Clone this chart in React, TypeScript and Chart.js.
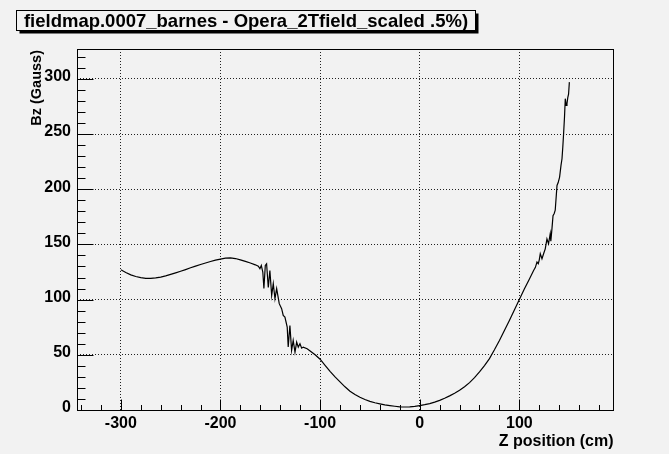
import React, { useEffect, useRef } from "react";
import { Chart, registerables } from "chart.js";

Chart.register(...registerables);

const WIDTH = 669;
const HEIGHT = 454;
const BG = "#f2f2f2";
const FONT = "'Liberation Sans', Arial, Helvetica, sans-serif";

const chartTitle = "fieldmap.0007_barnes - Opera_2Tfield_scaled .5%)";
const xTitle = "Z position (cm)";
const yTitle = "Bz (Gauss)";

// Axis ranges and tick positions
const xRange = [-344, 194];
const yRange = [0, 327];
const xMajorTicks = [-300, -200, -100, 0, 100];
const yMajorTicks = [0, 50, 100, 150, 200, 250, 300];
const xMinorStep = 20;
const yMinorStep = 10;

// Field map along the axis: Z position (cm) and Bz (Gauss)
const zPosition = [
  -300, -295, -290, -285, -280, -275, -270, -265, -260, -255,
  -250, -245, -240, -235, -230, -225, -220, -215, -210, -205,
  -200, -195, -190, -185, -180, -175, -170, -165, -162, -160.4,
  -159, -157.5, -156.4, -155, -153.7, -152, -150.4, -148.6, -147, -145.3,
  -143.6, -141, -138.6, -137, -135.3, -133, -132, -130.3, -128.6, -127,
  -125.2, -123.5, -121.9, -120.2, -118.5, -116.9, -113, -110, -105, -100,
  -95, -90, -85, -80, -75, -70, -65, -60, -55, -50,
  -45, -40, -35, -30, -25, -20, -15, -10, -5, 0,
  5, 10, 15, 20, 25, 30, 35, 40, 45, 50,
  55, 60, 65, 70, 75, 80, 85, 90, 95, 100,
  105, 110, 114.3, 116, 117.7, 119, 120, 121, 122.7, 124.5,
  126, 127.7, 129.3, 131, 131.6, 132.8, 133.8, 135, 136, 137.8,
  139, 140.4, 141.8, 142.8, 143.6, 144.4, 145.3, 146.1, 147, 147.8,
  148.6, 149.4, 150.2,
];

const bzGauss = [
  127, 124.5, 122.4, 120.9, 119.9, 119.3, 119.2, 119.6, 120.4, 121.5,
  122.8, 124.2, 125.7, 127.2, 128.8, 130.3, 131.8, 133.2, 134.5, 135.7,
  136.7, 137.5, 137.8, 137.2, 136.0, 134.6, 133.2, 131.5, 130.2, 128,
  131, 125, 110, 131, 132.5, 111, 126.4, 103.8, 114.4, 100.8,
  109.9, 96.3, 91.8, 85.7, 84.1, 75, 57, 76.6, 54, 63,
  52.4, 61.5, 57, 60, 56, 57, 55.5, 53.5, 50, 46,
  40.5, 35, 30, 25.5, 21, 17, 14, 11.5, 9.5, 7.8,
  6.6, 5.6, 4.7, 4.0, 3.4, 2.9, 2.7, 2.8, 3.3, 4.0,
  4.8, 5.8, 7.1, 8.7, 10.6, 12.8, 15.2, 17.8, 21.0, 24.8,
  29.3, 34.5, 40.2, 46.5, 54.5, 63, 72, 81, 90.5, 100,
  109.5, 118.5, 126.4, 129, 134, 132.5, 136, 141.6, 137, 142,
  146, 155, 150.6, 159.7, 153, 165, 176, 178, 181, 203.4,
  206, 211, 221.6, 227.6, 238, 250, 265, 282, 276, 277.4,
  283, 286, 297,
];

// Frame, inward tick marks, axis titles and the shadowed title box
const rootStyle = {
  id: "rootStyle",
  beforeDraw(chart: any) {
    const ctx = chart.ctx;
    ctx.save();
    ctx.fillStyle = BG;
    ctx.fillRect(0, 0, chart.width, chart.height);
    ctx.restore();
  },
  afterDatasetsDraw(chart: any) {
    const { ctx, chartArea: a } = chart;
    const x = chart.scales.x;
    const y = chart.scales.y;
    const left = Math.round(a.left) + 0.5;
    const bottom = Math.round(a.bottom) + 0.5;
    ctx.save();
    ctx.strokeStyle = "#000";
    ctx.lineWidth = 1;
    ctx.beginPath();
    for (let v = yRange[0]; v <= yRange[1]; v += yMinorStep) {
      const py = Math.round(y.getPixelForValue(v)) + 0.5;
      const len = yMajorTicks.includes(v) ? 16 : 8;
      ctx.moveTo(left, py);
      ctx.lineTo(left + len, py);
    }
    const firstX = Math.ceil(xRange[0] / xMinorStep) * xMinorStep;
    for (let v = firstX; v <= xRange[1]; v += xMinorStep) {
      const px = Math.round(x.getPixelForValue(v)) + 0.5;
      const len = xMajorTicks.includes(v) ? 11 : 5.5;
      ctx.moveTo(px, bottom);
      ctx.lineTo(px, bottom - len);
    }
    ctx.stroke();
    ctx.strokeRect(
      left,
      Math.round(a.top) + 0.5,
      Math.round(a.right) - Math.round(a.left),
      Math.round(a.bottom) - Math.round(a.top)
    );

    ctx.fillStyle = "#000";
    ctx.font = `bold 16px ${FONT}`;
    ctx.textAlign = "right";
    ctx.textBaseline = "alphabetic";
    ctx.fillText(xTitle, Math.round(a.right) + 0.5, 445.5);

    ctx.save();
    ctx.translate(40.5, Math.round(a.top) + 1);
    ctx.rotate(-Math.PI / 2);
    ctx.font = `bold 14.5px ${FONT}`;
    ctx.textAlign = "right";
    ctx.fillText(yTitle, 0, 0);
    ctx.restore();
    ctx.restore();
  },
  afterDraw(chart: any) {
    const ctx = chart.ctx;
    ctx.save();
    const bx = 16.5;
    const by = 10.5;
    const bw = 459;
    const bh = 20;
    ctx.fillStyle = "#000";
    ctx.fillRect(bx + 3, by + 3, bw, bh);
    ctx.fillStyle = BG;
    ctx.fillRect(bx, by, bw, bh);
    ctx.strokeStyle = "#000";
    ctx.lineWidth = 1;
    ctx.strokeRect(bx, by, bw, bh);
    ctx.fillStyle = "#000";
    ctx.font = `bold 18.5px ${FONT}`;
    ctx.textAlign = "center";
    ctx.textBaseline = "alphabetic";
    ctx.fillText(chartTitle, bx + bw / 2, 26.7);
    ctx.restore();
  },
};

export default function App() {
  const canvasRef = useRef<HTMLCanvasElement | null>(null);

  useEffect(() => {
    if (!canvasRef.current) return;
    Chart.defaults.font.family = FONT;
    const chart = new Chart(canvasRef.current, {
      type: "line",
      data: {
        datasets: [
          {
            data: zPosition.map((z, i) => ({ x: z, y: bzGauss[i] })),
            borderColor: "#000",
            borderWidth: 1.2,
            pointRadius: 0,
            tension: 0,
            fill: false,
          },
        ],
      },
      options: {
        responsive: false,
        animation: false,
        devicePixelRatio: 1,
        layout: { padding: { left: 0, top: 49, right: 56, bottom: 0 } },
        plugins: {
          legend: { display: false },
          title: { display: false },
          tooltip: { enabled: false },
        },
        scales: {
          x: {
            type: "linear",
            min: xRange[0],
            max: xRange[1],
            afterBuildTicks: (scale: any) => {
              scale.ticks = xMajorTicks.map((v) => ({ value: v }));
            },
            afterFit: (scale: any) => {
              scale.height = 44;
            },
            grid: { color: "#222", lineWidth: 1, drawTicks: false },
            border: { display: false, dash: [1, 2] },
            ticks: {
              padding: 4,
              color: "#000",
              maxRotation: 0,
              autoSkip: false,
              font: { family: FONT, size: 16, weight: "bold" },
            },
          },
          y: {
            type: "linear",
            min: yRange[0],
            max: yRange[1],
            afterBuildTicks: (scale: any) => {
              scale.ticks = yMajorTicks.map((v) => ({ value: v }));
            },
            afterFit: (scale: any) => {
              scale.width = 77;
            },
            grid: { color: "#222", lineWidth: 1, drawTicks: false },
            border: { display: false, dash: [1, 2] },
            ticks: {
              padding: 6,
              labelOffset: -2,
              color: "#000",
              autoSkip: false,
              font: { family: FONT, size: 16, weight: "bold" },
            },
          },
        },
      },
      plugins: [rootStyle],
    });
    return () => chart.destroy();
  }, []);

  return (
    <div
      style={{
        position: "absolute",
        left: 0,
        top: 0,
        width: WIDTH,
        height: HEIGHT,
        background: BG,
      }}
    >
      <canvas
        ref={canvasRef}
        width={WIDTH}
        height={HEIGHT}
        style={{ display: "block", width: WIDTH, height: HEIGHT }}
      />
    </div>
  );
}
